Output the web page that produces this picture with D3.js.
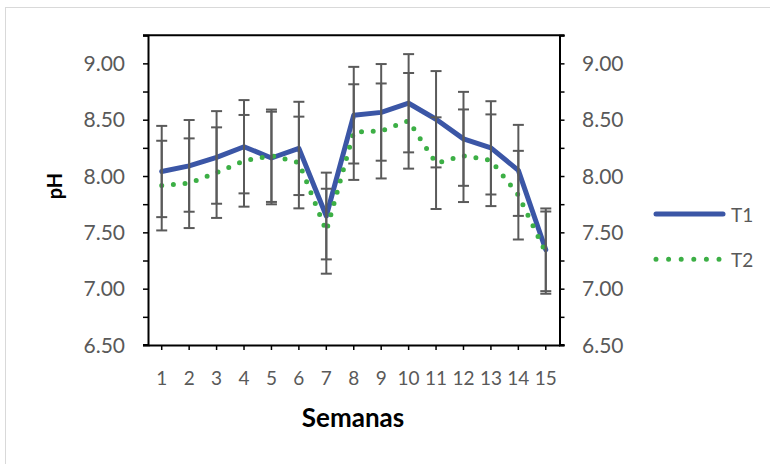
<!DOCTYPE html>
<html>
<head>
<meta charset="utf-8">
<script src="https://cdn.jsdelivr.net/npm/d3@7/dist/d3.min.js"></script>
<style>
  html, body { margin: 0; padding: 0; background: #fff; }
  svg { display: block; }
  text { font-family: Lato, "Open Sans", sans-serif; }
</style>
</head>
<body>
<svg id="chart" width="770" height="464"></svg>
<script>
// Weekly pH readings for two treatments, with standard deviations
const semanas = ["1","2","3","4","5","6","7","8","9","10","11","12","13","14","15"];
const t1 = [8.04, 8.09, 8.165, 8.26, 8.16, 8.245, 7.645, 8.54, 8.565, 8.646, 8.504, 8.33, 8.25, 8.05, 7.345];
const t1Sd = [0.405, 0.407, 0.411, 0.414, 0.411, 0.414, 0.385, 0.429, 0.429, 0.436, 0.4275, 0.417, 0.414, 0.404, 0.367];
const t2 = [7.915, 7.936, 8.03, 8.135, 8.18, 8.12, 7.51, 8.39, 8.40, 8.49, 8.114, 8.18, 8.14, 7.83, 7.32];
const t2Sd = [0.398, 0.398, 0.402, 0.407, 0.41, 0.407, 0.377, 0.4245, 0.4216, 0.4245, 0.407, 0.411, 0.407, 0.3935, 0.365];
const yTicks = [6.5, 6.75, 7.0, 7.25, 7.5, 7.75, 8.0, 8.25, 8.5, 8.75, 9.0, 9.25];
const yLabels = [6.5, 7.0, 7.5, 8.0, 8.5, 9.0];
const seriesNames = ["T1", "T2"];

const svg = d3.select("#chart");
const plot = { left: 148, right: 559.5, top: 35.2, bottom: 345 };

const x = d3.scaleBand().domain(semanas).range([plot.left, plot.right]).padding(0);
const cx = d => x(d) + x.bandwidth() / 2;
const y = d3.scaleLinear().domain([6.5, 9.25]).range([plot.bottom, plot.top]);

// outer chart frame
svg.append("rect")
  .attr("x", 5.5).attr("y", 7.5).attr("width", 800).attr("height", 500)
  .attr("fill", "none").attr("stroke", "#d9d9d9").attr("stroke-width", 1);

const fmt = d3.format(".2f");

// left value axis
const yLeft = svg.append("g").attr("transform", `translate(${plot.left},0)`)
  .call(d3.axisLeft(y).tickValues(yTicks).tickSize(5).tickFormat(""));
// right value axis
const yRight = svg.append("g").attr("transform", `translate(${plot.right},0)`)
  .call(d3.axisRight(y).tickValues(yTicks).tickSize(5).tickFormat(""));
// category axis
const xAxis = svg.append("g").attr("transform", `translate(0,${plot.bottom})`)
  .call(d3.axisBottom(x).tickSize(5).tickSizeOuter(0).tickFormat(""));

[yLeft, yRight, xAxis].forEach(g => {
  g.select(".domain").attr("stroke", "#000").attr("stroke-width", 2);
  g.selectAll(".tick line").attr("stroke", "#000").attr("stroke-width", 1.5);
});

// top frame edge and corner extensions
svg.append("line")
  .attr("x1", plot.left - 5).attr("x2", plot.right + 5)
  .attr("y1", plot.top).attr("y2", plot.top)
  .attr("stroke", "#000").attr("stroke-width", 2);
svg.append("line")
  .attr("x1", plot.left - 5).attr("x2", plot.left)
  .attr("y1", plot.bottom).attr("y2", plot.bottom)
  .attr("stroke", "#000").attr("stroke-width", 2);
svg.append("line")
  .attr("x1", plot.right).attr("x2", plot.right + 5)
  .attr("y1", plot.bottom).attr("y2", plot.bottom)
  .attr("stroke", "#000").attr("stroke-width", 2);

// value labels on both sides
svg.append("g").selectAll("text").data(yLabels).join("text")
  .attr("x", 125).attr("y", d => y(d) + 7.5)
  .attr("text-anchor", "end").attr("font-size", 21).attr("fill", "#595959")
  .text(d => fmt(d));
svg.append("g").selectAll("text").data(yLabels).join("text")
  .attr("x", 582).attr("y", d => y(d) + 7.5)
  .attr("text-anchor", "start").attr("font-size", 21).attr("fill", "#595959")
  .text(d => fmt(d));

// week labels
svg.append("g").selectAll("text").data(semanas).join("text")
  .attr("x", d => cx(d)).attr("y", 385)
  .attr("text-anchor", "middle").attr("font-size", 19).attr("fill", "#595959")
  .text(d => d);

// axis titles
svg.append("text")
  .attr("transform", "translate(61.5,186) rotate(-90)")
  .attr("text-anchor", "middle").attr("font-size", 20).attr("font-weight", 700)
  .attr("fill", "#000").text("pH");
svg.append("text")
  .attr("x", 353).attr("y", 427)
  .attr("text-anchor", "middle").attr("font-size", 26).attr("font-weight", 700)
  .attr("fill", "#000").text("Semanas");

const line = d3.line().x((d, i) => cx(semanas[i])).y(d => y(d));

// T1 solid line
svg.append("path").datum(t1)
  .attr("d", line).attr("fill", "none")
  .attr("stroke", "#3b56a6").attr("stroke-width", 5)
  .attr("stroke-linejoin", "round").attr("stroke-linecap", "round");

// T2 dotted line
svg.append("path").datum(t2)
  .attr("d", line).attr("fill", "none")
  .attr("stroke", "#3caf45").attr("stroke-width", 5)
  .attr("stroke-dasharray", "0 11.7")
  .attr("stroke-linecap", "round");

// standard deviation whiskers
function drawErrors(vals, sds) {
  const g = svg.append("g").attr("stroke", "#5a5a5a").attr("stroke-width", 2).attr("fill", "none");
  vals.forEach((v, i) => {
    const px = cx(semanas[i]);
    const hi = y(v + sds[i]), lo = y(v - sds[i]);
    g.append("line").attr("x1", px).attr("x2", px).attr("y1", hi).attr("y2", lo);
    g.append("line").attr("x1", px - 5.5).attr("x2", px + 5.5).attr("y1", hi).attr("y2", hi);
    g.append("line").attr("x1", px - 5.5).attr("x2", px + 5.5).attr("y1", lo).attr("y2", lo);
  });
}
drawErrors(t1, t1Sd);
drawErrors(t2, t2Sd);

// legend
const legend = svg.append("g");
legend.append("line")
  .attr("x1", 656).attr("x2", 723).attr("y1", 214).attr("y2", 214)
  .attr("stroke", "#3b56a6").attr("stroke-width", 5).attr("stroke-linecap", "round");
legend.append("line")
  .attr("x1", 656).attr("x2", 720).attr("y1", 259.3).attr("y2", 259.3)
  .attr("stroke", "#3caf45").attr("stroke-width", 5)
  .attr("stroke-dasharray", "0 12.6").attr("stroke-linecap", "round");
legend.selectAll("text.lg").data(seriesNames).join("text")
  .attr("class", "lg")
  .attr("x", 731).attr("y", (d, i) => i === 0 ? 221.5 : 266.5)
  .attr("font-size", 19).attr("fill", "#595959")
  .text(d => d);
</script>
</body>
</html>
